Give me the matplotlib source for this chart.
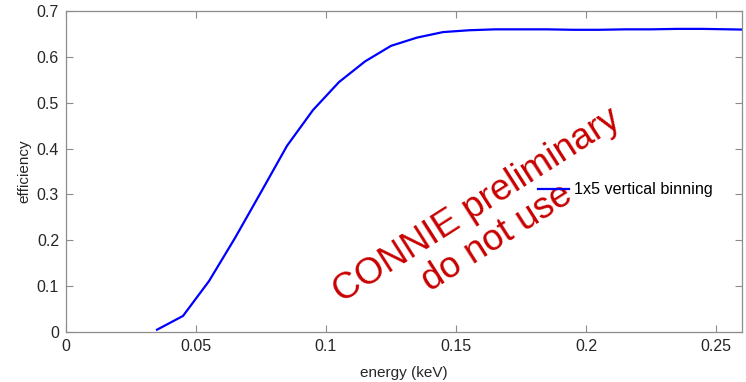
import numpy as np
import matplotlib
matplotlib.use("Agg")
import matplotlib.pyplot as plt

plt.rcParams["font.family"] = ["Liberation Sans", "DejaVu Sans"]

# efficiency curve, 1x5 vertical binning
energy = [0.035, 0.045, 0.055, 0.065, 0.075, 0.085, 0.095, 0.105, 0.115,
          0.125, 0.135, 0.145, 0.155, 0.165, 0.175, 0.185, 0.195, 0.205,
          0.215, 0.225, 0.235, 0.245, 0.255, 0.265]
efficiency = [0.005, 0.035, 0.111, 0.205, 0.305, 0.406, 0.484, 0.545, 0.590,
              0.624, 0.642, 0.654, 0.658, 0.660, 0.660, 0.660, 0.659, 0.659,
              0.660, 0.660, 0.661, 0.661, 0.660, 0.659]

x_ticks = [0, 0.05, 0.1, 0.15, 0.2, 0.25]
x_tick_labels = ["0", "0.05", "0.1", "0.15", "0.2", "0.25"]
y_ticks = [0, 0.1, 0.2, 0.3, 0.4, 0.5, 0.6, 0.7]
y_tick_labels = ["0", "0.1", "0.2", "0.3", "0.4", "0.5", "0.6", "0.7"]

AX_GRAY = "#8c8c8c"
TXT = "#262626"

fig = plt.figure(figsize=(7.46, 3.82), dpi=100)
ax = fig.add_axes([66 / 746, 50 / 382, 676 / 746, 321 / 382])

ax.plot(energy, efficiency, color="#0000ff", linewidth=1.6,
        label="1x5 vertical binning")

ax.set_xlim(0, 0.26)
ax.set_ylim(0, 0.7)
ax.set_xticks(x_ticks, x_tick_labels)
ax.set_yticks(y_ticks, y_tick_labels)
ax.tick_params(direction="in", length=5, width=0.8, color=AX_GRAY,
               labelcolor=TXT, labelsize=11.5, top=True, right=True, pad=5)
for sp in ax.spines.values():
    sp.set_color(AX_GRAY)
    sp.set_linewidth(0.9)

ax.set_xlabel("energy (keV)", fontsize=11, color=TXT, labelpad=9)
ax.set_ylabel("efficiency", fontsize=11, color=TXT, labelpad=4)

ax.legend(loc="center left", bbox_to_anchor=(0.677, 0.443), frameon=False,
          fontsize=11.6, handlelength=1.9, handletextpad=0.3)

ax.text(0.162, 0.240, "CONNIE preliminary\ndo not use", color="#c80000",
        fontsize=26.5, rotation=32.5, ha="center", va="center",
        multialignment="center", linespacing=1.12,
        rotation_mode="anchor")

fig.savefig("out.png", dpi=100)
